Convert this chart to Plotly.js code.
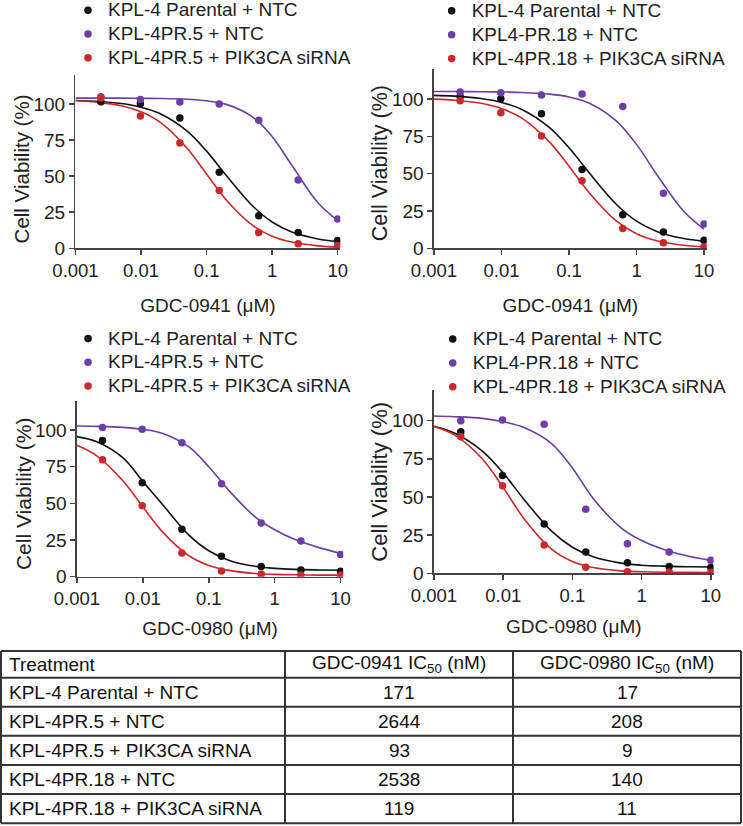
<!DOCTYPE html>
<html>
<head>
<meta charset="utf-8">
<script src="https://cdn.plot.ly/plotly-3.0.1.min.js"></script>
<style>
  html, body { margin: 0; padding: 0; background: #fff; }
  #plot { width: 743px; height: 826px; }
</style>
</head>
<body>
<div id="plot"></div>
<script>
// drug concentrations (uM), 4-fold dilution series
const conc = [0.00244, 0.00977, 0.0391, 0.156, 0.625, 2.5, 10];
const fitX = [0.001, 0.002, 0.005, 0.01, 0.02, 0.05, 0.1, 0.2, 0.5, 1, 2, 5, 10];

// GDC-0941, measured viability (%)
const parental0941 = [101.6, 100.1, 90.2, 52.7, 22.5, 11, 5.4];
const pr5_0941 = [105, 103, 101.4, 100, 88.7, 47.3, 20.3];
const pr5si_0941 = [104.2, 91.7, 73, 40, 11, 3.2, 2];
const pr18_0941 = [104.7, 104.2, 102.7, 103.3, 94.9, 36.8, 16.3];
const pr18si_0941 = [98.9, 90.8, 75.2, 45.3, 13.2, 3.8, 1.1];

// GDC-0941, fitted curves (%)
const parental0941Fit = [102.4, 101.9, 100.3, 97.7, 93.0, 81.3, 67.3, 50.4, 29.5, 18.2, 11.3, 6.5, 4.8];
const pr5_0941Fit = [104.0, 104.0, 104.0, 103.9, 103.8, 103.3, 102.2, 99.7, 91.1, 77.5, 57.5, 31.5, 19.2];
const pr5si_0941Fit = [102.2, 101.3, 98.8, 94.6, 87.0, 69.5, 51.5, 33.5, 16.0, 8.4, 4.3, 1.7, 0.8];
const pr18_0941Fit = [105.0, 105.0, 104.9, 104.7, 104.4, 103.3, 101.4, 97.2, 85.4, 69.6, 49.3, 24.8, 12.8];
const pr18si_0941Fit = [99.9, 99.2, 97.1, 93.6, 87.2, 71.8, 55.0, 37.1, 18.4, 9.8, 5.0, 2.0, 1.0];

// GDC-0980, measured viability (%)
const parental0980 = [92.8, 64, 32.3, 13.9, 7.0, 4.5, 3.8];
const pr5_0980 = [101.8, 100.5, 91.4, 63.4, 36.6, 24.3, 15.2];
const pr5si_0980 = [79.8, 48.4, 16.1, 3.9, 1.8, 1.1, 1.1];
const pr18_0980 = [100, 100.4, 97.6, 41.9, 19.4, 14, 8.5];
const pr18si_0980 = [89.5, 57.4, 18.6, 3.9, 1.1, 0.7, 0.7];

// GDC-0980, fitted curves (%)
const parental0980Fit_a = [95.5, 92, 81, 65, 49.1, 28.4, 17.7, 11.3, 7.1, 5.7, 5.0, 4.6, 4.4];
const parental0980Fit_b = [96.3, 91.7, 80.0, 65.7, 48.4, 27.6, 17.1, 10.8, 6.7, 5.3, 4.7, 4.3, 4.1];
const pr5_0980Fit = [102.7, 102.5, 101.8, 100.5, 97.7, 88.5, 75, 59, 41, 32, 25.5, 19.5, 16];
const pr5si_0980Fit = [89.6, 82.4, 65.3, 47.6, 30.4, 14.3, 7.7, 4.3, 2.2, 1.6, 1.3, 1.1, 1.05];
const pr18_0980Fit = [103, 102.6, 101.5, 99.3, 95.5, 85, 69, 49, 30, 21.5, 16, 11, 8.5];
const pr18si_0980Fit = [96.2, 90.5, 74.9, 56.2, 35.8, 15.9, 7.8, 3.8, 1.6, 1.0, 0.7, 0.6, 0.5];

// IC50 table
const tableHeader = ['Treatment', 'GDC-0941 IC<sub>50</sub> (nM)', 'GDC-0980 IC<sub>50</sub> (nM)'];
const treatments = ['KPL-4 Parental + NTC', 'KPL-4PR.5 + NTC', 'KPL-4PR.5 + PIK3CA siRNA',
  'KPL-4PR.18 + NTC', 'KPL-4PR.18 + PIK3CA siRNA'];
const ic50_0941 = [171, 2644, 93, 2538, 119];
const ic50_0980 = [17, 208, 9, 140, 11];

const xTickVals = [0.001, 0.01, 0.1, 1, 10];
const xTickText = ['0.001', '0.01', '0.1', '1', '10'];
const yTickVals = [0, 25, 50, 75, 100];

const BLACK = '#111111';
const PURPLE = '#6b3fa5';
const RED = '#c9282d';
const FONT = 'Liberation Sans, Arial, Helvetica, sans-serif';
const W = 743, H = 826;

const panels = [
  { drug: 'GDC-0941 (\u03bcM)', names: ['KPL-4 Parental + NTC', 'KPL-4PR.5 + NTC', 'KPL-4PR.5 + PIK3CA siRNA'],
    pts: [parental0941, pr5_0941, pr5si_0941], fits: [parental0941Fit, pr5_0941Fit, pr5si_0941Fit],
    xdom: [0.1016, 0.4580], ydom: [0.6994, 0.9091], leg: [0.0915, 1.0081], ytSize: 20.5, ytY: 55, standoff: 18 },
  { drug: 'GDC-0941 (\u03bcM)', names: ['KPL-4 Parental + NTC', 'KPL4-PR.18 + NTC', 'KPL-4PR.18 + PIK3CA siRNA'],
    pts: [parental0941, pr18_0941, pr18si_0941], fits: [parental0941Fit, pr18_0941Fit, pr18si_0941Fit],
    xdom: [0.5841, 0.9512], ydom: [0.6994, 0.9163], leg: [0.581, 1.0073], ytSize: 21.5, ytY: 57, standoff: 18 },
  { drug: 'GDC-0980 (\u03bcM)', names: ['KPL-4 Parental + NTC', 'KPL-4PR.5 + NTC', 'KPL-4PR.5 + PIK3CA siRNA'],
    pts: [parental0980, pr5_0980, pr5si_0980], fits: [parental0980Fit_a, pr5_0980Fit, pr5si_0980Fit],
    xdom: [0.1036, 0.4619], ydom: [0.3018, 0.5149], leg: [0.0916, 0.6108], ytSize: 21, ytY: 57, standoff: 13 },
  { drug: 'GDC-0980 (\u03bcM)', names: ['KPL-4 Parental + NTC', 'KPL4-PR.18 + NTC', 'KPL-4PR.18 + PIK3CA siRNA'],
    pts: [parental0980, pr18_0980, pr18si_0980], fits: [parental0980Fit_b, pr18_0980Fit, pr18si_0980Fit],
    xdom: [0.5841, 0.9604], ydom: [0.3059, 0.5277], leg: [0.5824, 0.6099], ytSize: 22, ytY: 60, standoff: 14 },
];
const colors = [BLACK, PURPLE, RED];

let data = [];
const layout = {
  width: W,
  height: H,
  // legends sit at the very top edge, don't let them push the margins
  margin: { l: 0, r: 0, t: 0, b: 0, autoexpand: false },
  paper_bgcolor: '#ffffff',
  plot_bgcolor: '#ffffff',
  font: { family: FONT, size: 18, color: '#222' },
  showlegend: true,
  annotations: [],
  shapes: [],
};

panels.forEach((p, i) => {
  const n = i === 0 ? '' : String(i + 1);
  const xa = 'x' + n, ya = 'y' + n;
  const legName = 'legend' + n;

  for (let k = 0; k < 3; k++) {
    // fitted curve
    data.push({
      x: fitX, y: p.fits[k], xaxis: xa, yaxis: ya,
      mode: 'lines', line: { shape: 'spline', color: colors[k], width: 1.6 },
      showlegend: false, hoverinfo: 'skip',
    });
  }
  for (let k = 0; k < 3; k++) {
    // measured points
    data.push({
      x: conc, y: p.pts[k], xaxis: xa, yaxis: ya,
      mode: 'markers', legend: legName,
      // small legend font keeps rows tight, the span sets the visible size
      name: '<span style="font-size:19px">' + p.names[k] + '</span>',
      marker: { color: colors[k], size: 7.5 },
    });
  }

  layout['xaxis' + n] = {
    type: 'log', domain: p.xdom, range: [-3, 1.04], anchor: ya,
    tickvals: xTickVals, ticktext: xTickText,
    ticks: 'outside', ticklen: 5, tickwidth: 1.5, tickcolor: '#444',
    showline: true, linecolor: '#444', linewidth: 1.5,
    showgrid: false, zeroline: false,
    tickfont: { size: 18.5, color: '#222' },
    title: { text: p.drug, font: { size: 19, color: '#222' }, standoff: p.standoff },
  };
  layout['yaxis' + n] = {
    domain: p.ydom, range: [0, 120], anchor: xa,
    tickvals: yTickVals,
    ticks: 'outside', ticklen: 5, tickwidth: 1.5, tickcolor: '#444',
    showline: true, linecolor: '#444', linewidth: 1.5,
    showgrid: false, zeroline: false,
    tickfont: { size: 19, color: '#222' },
  };
  layout[legName] = {
    x: p.leg[0], y: p.leg[1], xanchor: 'left', yanchor: 'top',
    bgcolor: 'rgba(0,0,0,0)', borderwidth: 0,
    font: { size: 16, color: '#222' },
  };
  layout.annotations.push({
    text: 'Cell Viability (%)', textangle: -90,
    xref: xa + ' domain', x: 0, xanchor: 'center', xshift: -54,
    yref: ya, y: p.ytY, yanchor: 'middle',
    showarrow: false, font: { size: p.ytSize, color: '#222' },
  });
});

// IC50 table drawn with layout shapes and annotations
const colEdges = [1, 285, 513, 741];
const rowEdges = [651, 677.7, 706.7, 735.7, 765, 794, 823.3];
const lineStyle = { color: '#333', width: 2 };
rowEdges.forEach(yPx => {
  layout.shapes.push({ type: 'line', xref: 'paper', yref: 'paper',
    x0: colEdges[0] / W, x1: colEdges[3] / W, y0: 1 - yPx / H, y1: 1 - yPx / H, line: lineStyle });
});
colEdges.forEach(xPx => {
  layout.shapes.push({ type: 'line', xref: 'paper', yref: 'paper',
    x0: xPx / W, x1: xPx / W, y0: 1 - rowEdges[0] / H, y1: 1 - rowEdges[6] / H, line: lineStyle });
});
const tableRows = [tableHeader].concat(treatments.map((t, r) => [t, String(ic50_0941[r]), String(ic50_0980[r])]));
tableRows.forEach((row, r) => {
  const yMid = 1 - (rowEdges[r] + rowEdges[r + 1]) / 2 / H;
  row.forEach((txt, c) => {
    const left = c === 0;
    layout.annotations.push({
      text: txt, showarrow: false, xref: 'paper', yref: 'paper',
      x: left ? (colEdges[0] + 6) / W : (colEdges[c] + colEdges[c + 1]) / 2 / W,
      xanchor: left ? 'left' : 'center',
      y: yMid, yanchor: 'middle',
      font: { size: 19, color: '#111' },
    });
  });
});

const config = {
  displayModeBar: false,
  staticPlot: true,
};

Plotly.newPlot('plot', data, layout, config);
</script>
</body>
</html>
